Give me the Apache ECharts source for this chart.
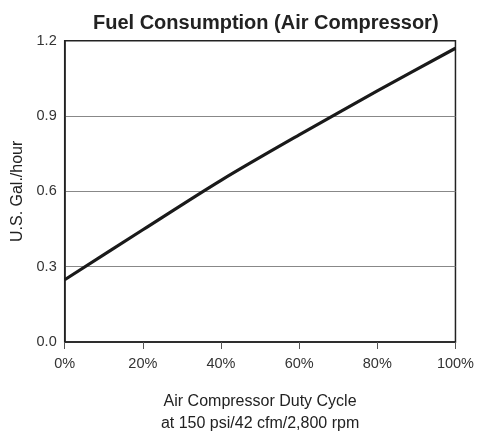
<!DOCTYPE html>
<html>
<head>
<meta charset="utf-8">
<script src="https://cdn.jsdelivr.net/npm/echarts@6/dist/echarts.min.js"></script>
<style>html,body{margin:0;padding:0;background:#fff;}#c{width:477px;height:440px;}</style>
</head>
<body>
<div id="c"></div>
<script>
const dutyCycle = [0, 20, 40, 60, 80, 100];
const gallonsPerHour = [0.248, 0.447, 0.644, 0.825, 1.0, 1.17];
const yTicks = [0.0, 0.3, 0.6, 0.9, 1.2];
const xTicks = [0, 20, 40, 60, 80, 100];

const FONT = '"Liberation Sans", Arial, sans-serif';
const chart = echarts.init(document.getElementById('c'));
chart.setOption({
  animation: false,
  title: {
    text: 'Fuel Consumption (Air Compressor)',
    left: 88, top: 8,
    textStyle: { fontFamily: FONT, fontSize: 20, fontWeight: 'bold', color: '#222' }
  },
  grid: {
    left: 64.7, right: 19.3, top: 40.7, bottom: 95,
    show: true, borderColor: '#222', borderWidth: 1.5, backgroundColor: 'transparent'
  },
  xAxis: {
    type: 'value', min: xTicks[0], max: xTicks[xTicks.length - 1], interval: 20,
    name: 'Air Compressor Duty Cycle\nat 150 psi/42 cfm/2,800 rpm',
    nameLocation: 'middle', nameGap: 49,
    nameTextStyle: { fontFamily: FONT, fontSize: 16, color: '#222', lineHeight: 22 },
    axisLine: { show: true, lineStyle: { color: '#222', width: 1.5 } },
    axisTick: { show: true, length: 7, lineStyle: { color: '#555', width: 1 } },
    axisLabel: { margin: 14, fontFamily: FONT, fontSize: 14.5, color: '#333', formatter: '{value}%' },
    splitLine: { show: false }
  },
  yAxis: {
    type: 'value', min: yTicks[0], max: yTicks[yTicks.length - 1], interval: 0.3,
    name: 'U.S. Gal./hour', nameLocation: 'middle', nameGap: 38,
    nameTextStyle: { fontFamily: FONT, fontSize: 16, color: '#222' },
    axisLine: { show: true, lineStyle: { color: '#222', width: 1.5 } },
    axisTick: { show: false },
    axisLabel: { margin: 8, fontFamily: FONT, fontSize: 14.5, color: '#333', formatter: v => v.toFixed(1) },
    splitLine: { show: true, showMinLine: false, showMaxLine: false, lineStyle: { color: '#888', width: 1.2 } }
  },
  series: [{
    type: 'line',
    data: dutyCycle.map((x, i) => [x, gallonsPerHour[i]]),
    showSymbol: false, smooth: 0.3,
    lineStyle: { color: '#1a1a1a', width: 3.2 },
    z: 5
  }]
});
</script>
</body>
</html>
